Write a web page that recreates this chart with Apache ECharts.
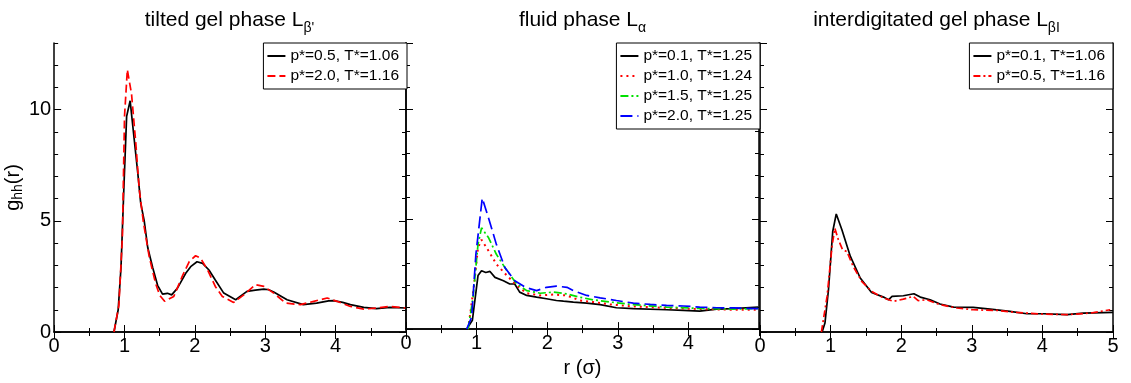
<!DOCTYPE html>
<html>
<head>
<meta charset="utf-8">
<script src="https://cdn.jsdelivr.net/npm/echarts@6/dist/echarts.min.js"></script>
<style>
html,body{margin:0;padding:0;background:#fff;}
#chart{width:1131px;height:383px;}
</style>
</head>
<body>
<div id="chart"></div>
<script>
// ---- data ----
const panelTitles = ["tilted gel phase L{s|β'}", "fluid phase L{s|α}", "interdigitated gel phase L{s|βI}"];
const xTicks = [0, 1, 2, 3, 4, 5];

// panel 1: tilted gel phase
const p1aName = "p*=0.5, T*=1.06";
const p1aX = [0.85,0.91,0.95,0.99,1.03,1.08,1.14,1.19,1.23,1.28,1.33,1.40,1.47,1.54,1.61,1.67,1.75,1.87,1.94,2.03,2.11,2.20,2.29,2.41,2.58,2.74,2.86,2.98,3.05,3.12,3.31,3.54,3.73,3.90,3.97,4.10,4.21,4.40,4.58,4.77,5.0];
const p1aY = [0,1.0,2.9,6.4,9.7,10.4,8.6,7.1,5.8,5.0,3.8,2.9,2.1,1.7,1.74,1.67,1.96,2.64,2.94,3.16,3.09,2.79,2.34,1.75,1.45,1.83,1.88,1.93,1.90,1.80,1.45,1.23,1.30,1.40,1.41,1.33,1.23,1.11,1.05,1.11,1.08];
const p1bName = "p*=2.0, T*=1.16";
const p1bX = [0.85,0.92,0.97,1.00,1.04,1.10,1.16,1.21,1.27,1.35,1.44,1.50,1.57,1.70,1.82,1.92,2.01,2.08,2.18,2.29,2.39,2.55,2.70,2.86,2.98,3.12,3.29,3.50,3.69,3.88,4.02,4.21,4.40,4.58,4.77,4.99];
const p1bY = [0,1.2,4.3,9.7,11.8,10.7,8.5,6.4,4.9,3.4,2.2,1.65,1.38,1.60,2.50,3.17,3.43,3.32,2.80,2.05,1.60,1.33,1.68,2.13,2.05,1.75,1.30,1.23,1.38,1.53,1.38,1.15,1.03,1.08,1.15,1.08];

// panel 2: fluid phase
const p2aName = "p*=0.1, T*=1.25";
const p2aX = [0.86,0.94,1.02,1.07,1.13,1.19,1.26,1.38,1.47,1.54,1.61,1.71,1.85,1.99,2.13,2.23,2.37,2.56,2.75,2.98,3.22,3.69,3.93,4.16,4.40,4.64,4.99];
const p2aY = [0,0.4,2.43,2.65,2.57,2.62,2.35,2.20,2.05,2.05,1.68,1.53,1.45,1.38,1.30,1.27,1.23,1.18,1.11,0.97,0.93,0.88,0.85,0.82,0.91,0.93,1.0];
const p2bName = "p*=1.0, T*=1.24";
const p2bX = [0.88,0.96,1.02,1.07,1.17,1.28,1.43,1.57,1.71,1.90,2.09,2.28,2.46,2.65,2.89,3.22,3.69,4.16,4.64,4.99];
const p2bY = [0,1.9,3.7,4.06,3.55,2.95,2.43,1.98,1.63,1.53,1.57,1.53,1.30,1.23,1.12,1.03,0.96,0.91,0.88,0.88];
const p2cName = "p*=1.5, T*=1.25";
const p2cX = [0.88,0.95,1.02,1.07,1.17,1.28,1.43,1.57,1.71,1.90,2.09,2.28,2.46,2.65,2.89,3.22,3.69,4.16,4.64,4.99];
const p2cY = [0,1.45,3.85,4.6,4.15,3.40,2.65,2.05,1.75,1.63,1.68,1.60,1.45,1.33,1.23,1.11,1.0,0.94,0.91,0.93];
const p2dName = "p*=2.0, T*=1.25";
const p2dX = [0.86,0.93,0.99,1.08,1.17,1.28,1.40,1.54,1.69,1.85,1.99,2.13,2.28,2.39,2.56,2.75,2.98,3.22,3.46,3.69,3.93,4.16,4.40,4.64,4.99];
const p2dY = [0,0.55,3.4,5.95,5.04,3.85,2.80,2.20,1.90,1.75,1.90,1.95,1.90,1.72,1.53,1.42,1.30,1.18,1.12,1.08,1.05,1.0,0.97,0.96,0.93];

// panel 3: interdigitated gel phase
const p3aName = "p*=0.1, T*=1.06";
const p3aX = [0.88,0.92,0.97,1.03,1.08,1.16,1.28,1.42,1.58,1.75,1.82,1.87,2.03,2.18,2.27,2.41,2.55,2.74,3.02,3.26,3.54,3.78,4.02,4.35,4.58,5.0];
const p3aY = [0,0.4,1.9,4.52,5.31,4.6,3.40,2.43,1.78,1.57,1.45,1.60,1.63,1.72,1.57,1.45,1.26,1.12,1.11,1.03,0.93,0.82,0.82,0.78,0.85,0.88];
const p3bName = "p*=0.5, T*=1.16";
const p3bX = [0.87,0.95,1.02,1.06,1.11,1.17,1.23,1.32,1.44,1.58,1.75,1.89,2.03,2.17,2.24,2.36,2.55,2.79,3.02,3.36,3.64,3.97,4.35,4.68,4.96];
const p3bY = [0,1.6,3.85,4.67,4.15,3.70,3.62,2.95,2.28,1.83,1.53,1.38,1.48,1.60,1.41,1.45,1.23,1.08,1.0,0.97,0.88,0.81,0.78,0.85,1.0];

const yMax = 13;
const xMax = 5;

// ---- layout ----
const FONT = "'Liberation Sans', Arial, sans-serif";
const gridLeft = [53, 406, 760];
const gridW = 353, gridTop = 43, gridH = 289;

function pairs(xs, ys) { return xs.map((x, i) => [x, ys[i]]); }

const grids = gridLeft.map(l => ({ left: l, top: gridTop, width: gridW, height: gridH }));

const xAxes = [];
const yAxes = [];
for (let g = 0; g < 3; g++) {
  xAxes.push({
    gridIndex: g, type: 'value', min: 0, max: xMax, interval: 1, position: 'bottom',
    axisLine: { show: true, lineStyle: { color: '#000', width: 1.5 } },
    axisTick: { show: true, inside: true, length: 7, lineStyle: { color: '#000', width: 1 } },
    minorTick: { show: true, splitNumber: 2, length: 4, lineStyle: { color: '#000', width: 1 } },
    axisLabel: { show: true, color: '#000', fontSize: 20, fontFamily: FONT, margin: 4, showMaxLabel: g === 2, showMinLabel: true },
    splitLine: { show: false },
    name: g === 1 ? 'r (σ)' : '', nameLocation: 'middle', nameGap: 25,
    nameTextStyle: { color: '#000', fontSize: 20, fontFamily: FONT }
  });
  xAxes.push({
    gridIndex: g, type: 'value', min: 0, max: xMax, interval: 1, position: 'top',
    axisLine: { show: true, lineStyle: { color: '#000', width: 1.5 } },
    axisTick: { show: true, inside: true, length: 7, lineStyle: { color: '#000', width: 1 } },
    minorTick: { show: true, splitNumber: 2, length: 4, lineStyle: { color: '#000', width: 1 } },
    axisLabel: { show: false }, splitLine: { show: false }
  });
  const mk = (pos, major, lab) => ({
    gridIndex: g, type: 'value', min: 0, max: yMax, interval: major ? 5 : 1, position: pos, offset: 0,
    axisLine: { show: major, lineStyle: { color: '#000', width: 1.5 } },
    axisTick: { show: true, inside: true, length: major ? 7 : 4, lineStyle: { color: '#000', width: 1 } },
    axisLabel: { show: lab, color: '#000', fontSize: 20, fontFamily: FONT, margin: 3, showMaxLabel: false },
    splitLine: { show: false }
  });
  const yl = mk('left', true, g === 0);
  if (g === 0) {
    yl.name = '{a|g}{b|hh}{a|(r)}';
    yl.nameLocation = 'middle';
    yl.nameGap = 22;
    yl.nameRotate = 90;
    yl.nameTextStyle = {
      color: '#000', fontFamily: FONT,
      rich: {
        a: { fontSize: 20, fontFamily: FONT, color: '#000', lineHeight: 24, verticalAlign: 'middle' },
        b: { fontSize: 14, fontFamily: FONT, color: '#000', lineHeight: 24, verticalAlign: 'bottom', padding: [10, 0, 0, 0] }
      }
    };
  }
  yAxes.push(yl, mk('left', false, false), mk('right', true, false), mk('right', false, false));
}

function line(name, xs, ys, g, color, type, width) {
  return {
    type: 'line', name: name, xAxisIndex: 2 * g, yAxisIndex: 4 * g,
    data: pairs(xs, ys), showSymbol: false, symbol: 'none', smooth: false,
    lineStyle: { color: color, width: width || 1.7, type: type }, itemStyle: { color: color },
    clip: true, z: 3
  };
}

const series = [
  line(p1aName, p1aX, p1aY, 0, '#000', 'solid'),
  line(p1bName, p1bX, p1bY, 0, '#ff0000', [8, 4]),
  line(p2aName, p2aX, p2aY, 1, '#000', 'solid'),
  line(p2bName, p2bX, p2bY, 1, '#ff0000', [2, 4], 2),
  line(p2cName, p2cX, p2cY, 1, '#00e000', [8, 3, 2, 3]),
  line(p2dName, p2dX, p2dY, 1, '#0000ff', [12, 5]),
  line(p3aName, p3aX, p3aY, 2, '#000', 'solid'),
  line(p3bName, p3bX, p3bY, 2, '#ff0000', [7, 3, 2, 3]),
];

function legend(names, right) {
  return {
    orient: 'vertical', right: right, top: gridTop, data: names,
    backgroundColor: '#fff', borderColor: '#000', borderWidth: 1, borderRadius: 0,
    padding: [5, 8, 5, 3], itemGap: 4, itemWidth: 18, itemHeight: 14,
    selectedMode: false,
    itemStyle: { opacity: 0 },
    textStyle: { color: '#000', fontSize: 15.5, fontFamily: FONT }
  };
}

const titleCenters = gridLeft.map(l => l + gridW / 2);
const graphic = panelTitles.map((t, i) => ({
  type: 'text', x: titleCenters[i], y: 6,
  style: {
    text: t, textAlign: 'center', fill: '#000',
    font: '21px ' + FONT,
    rich: { s: { fontSize: 14, fontFamily: FONT, fill: '#000', padding: [15, 0, 0, 0] } }
  }
}));

const chart = echarts.init(document.getElementById('chart'), null, { renderer: 'canvas' });
chart.setOption({
  animation: false,
  backgroundColor: '#fff',
  grid: grids,
  xAxis: xAxes,
  yAxis: yAxes,
  legend: [
    legend([p1aName, p1bName], 1131 - 407),
    legend([p2aName, p2bName, p2cName, p2dName], 1131 - 760),
    legend([p3aName, p3bName], 1131 - 1113)
  ],
  graphic: graphic,
  series: series
});
</script>
</body>
</html>
